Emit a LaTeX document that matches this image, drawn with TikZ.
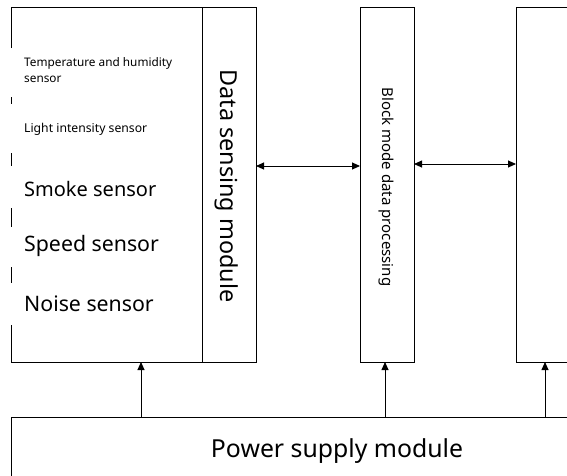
\documentclass[tikz,border=0pt]{standalone}
\usepackage{fontspec}
\setmainfont{Noto Sans}
\usetikzlibrary{arrows.meta}
\tikzset{
  blk/.style={draw, line width=0.9pt, inner sep=0pt, outer sep=0pt, anchor=north west},
  arr/.style={line width=0.9pt, -{Triangle[length=8pt,width=7pt]}},
  biarr/.style={line width=0.9pt, {Triangle[length=8pt,width=7pt]}-{Triangle[length=8pt,width=7pt]}},
  sensor/.style={anchor=base west, inner sep=0pt, align=left}
}
\begin{document}
\begin{tikzpicture}[x=1pt,y=-1pt]
\useasboundingbox (0,0) rectangle (567,475);
\clip (0,0) rectangle (567,475);

% sensor area (left edge drawn in pieces between the labels)
\node[blk, draw=none, minimum width=191pt, minimum height=355pt] (sens) at (11,7) {};
\draw[line width=0.9pt] (11,48) -- (11,7) -- (202,7) (11,362) -- (202,362);
\draw[line width=0.9pt] (11,97) -- (11,104) (11,153) -- (11,166)
  (11,208) -- (11,227) (11,267) -- (11,283) (11,325) -- (11,362);

% two-line label: base anchor sits on its last line
\node[sensor, font=\fontsize{11.8}{16}\selectfont] (temp) at (24,82.5) {Temperature and humidity\\sensor};
\node[sensor, font=\fontsize{12.2}{15}\selectfont] (light) at (24,132) {Light intensity sensor};
\node[sensor, font=\fontsize{20}{24}\selectfont] (smoke) at (24,196.5) {Smoke sensor};
\node[sensor, font=\fontsize{21.3}{24}\selectfont] (speed) at (24,251.5) {Speed sensor};
\node[sensor, font=\fontsize{21.3}{24}\selectfont] (noise) at (24,311.5) {Noise sensor};

% processing chain
\node[blk, minimum width=54pt, minimum height=355pt] (dsm) at (202,7) {};
\node[rotate=-90, anchor=base, font=\fontsize{23.4}{26}\selectfont, inner sep=0pt] (dsmtext) at (220,186) {Data sensing module};

\node[blk, minimum width=54pt, minimum height=355pt] (bmp) at (360,7) {};
\node[rotate=-90, font=\fontsize{15}{18}\selectfont, inner sep=0pt] (bmptext) at (386,187) {Block mode data processing};

\node[blk, minimum width=80pt, minimum height=355pt] (out) at (516,7) {};

% power supply
\node[blk, minimum width=600pt, minimum height=100pt] (pwr) at (11,417) {};
\node[anchor=base, font=\fontsize{24.8}{28}\selectfont, inner sep=0pt] (pwrtext) at (337,457) {Power supply module};

% data links
\draw[biarr] ([yshift=18.5pt]dsm.east) -- ([yshift=18.5pt]bmp.west);
\draw[biarr] ([yshift=20.5pt]bmp.east) -- ([yshift=20.5pt]out.west);

% power feeds
\coordinate (f1) at (141,0);
\coordinate (f2) at (385,0);
\coordinate (f3) at (545,0);
\draw[arr] (f1 |- pwr.north) -- (f1 |- sens.south);
\draw[arr] (f2 |- pwr.north) -- (f2 |- bmp.south);
\draw[arr] (f3 |- pwr.north) -- (f3 |- out.south);
\end{tikzpicture}
\end{document}
